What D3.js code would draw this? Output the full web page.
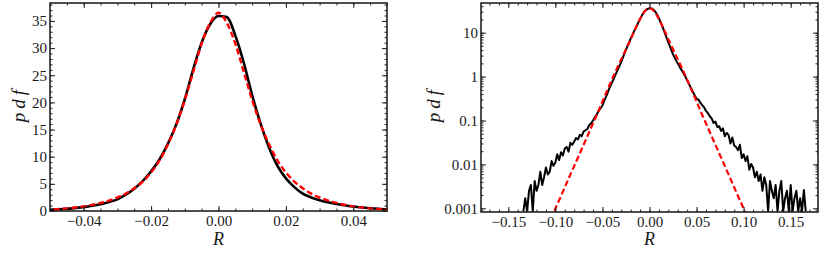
<!DOCTYPE html>
<html>
<head>
<meta charset="utf-8">
<script src="https://cdn.jsdelivr.net/npm/d3@7"></script>
<style>
  body { margin: 0; background: #fff; }
  svg { display: block; }
  .tick text { font-family: "Liberation Serif", serif; font-size: 15px; fill: #1a1a1a; }
</style>
</head>
<body>
<div id="chart"></div>
<script>
// empirical pdf, central part (same grid in both panels)
const coreR = [-0.05, -0.0475, -0.045, -0.0425, -0.04, -0.0375, -0.035, -0.0325, -0.03, -0.0275,
  -0.025, -0.0225, -0.02, -0.0175, -0.015, -0.0125, -0.01, -0.0075, -0.005, -0.0025, 0,
  0.0025, 0.005, 0.0075, 0.01, 0.0125, 0.015, 0.0175, 0.02, 0.0225, 0.025, 0.0275, 0.03,
  0.0325, 0.035, 0.0375, 0.04, 0.0425, 0.045, 0.0475, 0.05];
const blackCore = [0.22, 0.3, 0.4, 0.55, 0.72, 0.95, 1.25, 1.65, 2.15, 3.0,
  4.1, 5.5, 7.3, 9.5, 12.4, 16.0, 20.6, 26.1, 31.0, 34.4, 35.9,
  35.7, 32.3, 27.3, 21.3, 16.1, 11.7, 8.3, 6.0, 4.4, 3.2, 2.5, 2.0,
  1.6, 1.3, 1.05, 0.82, 0.64, 0.5, 0.39, 0.31];

// empirical pdf, tails (bins of 0.002)
const binWidth = 0.002;
const tailLeftStart = -0.134;
const blackTailLeft = [0.00085, 0.0017, 0.00085, 0.0025, 0.0034, 0.00085, 0.0042, 0.0025, 0.0034, 0.0068,
  0.0034, 0.0051, 0.0085, 0.0059, 0.0068, 0.0119, 0.0093, 0.011, 0.017, 0.0125,
  0.019, 0.016, 0.023, 0.025, 0.0195, 0.031, 0.028, 0.033, 0.04, 0.037,
  0.047, 0.044, 0.056, 0.06, 0.064, 0.079, 0.086, 0.1, 0.118, 0.138,
  0.165, 0.19];
const tailRightStart = 0.052;
const blackTailRight = [0.3, 0.255, 0.225, 0.2, 0.165, 0.148, 0.125, 0.112, 0.088, 0.094,
  0.071, 0.074, 0.058, 0.066, 0.044, 0.052, 0.047, 0.03, 0.041, 0.027,
  0.025, 0.021, 0.028, 0.014, 0.017, 0.0119, 0.0153, 0.0076, 0.0102, 0.0085,
  0.0051, 0.0068, 0.0042, 0.0059, 0.0025, 0.0051, 0.0034, 0.00085, 0.0042, 0.0025,
  0.0017, 0.0034, 0.00085, 0.0025, 0.0042, 0.00085, 0.0017, 0.0025, 0.00085, 0.0034,
  0.00085, 0.0017, 0.0025, 0.00085, 0.0017, 0.00085, 0.0026, 0.00085];

// fitted pdf (red dashed)
const redR = [-0.105, -0.1, -0.095, -0.09, -0.085, -0.08, -0.075, -0.07, -0.065, -0.06, -0.055,
  -0.05, -0.045, -0.04, -0.035, -0.03, -0.0275, -0.025, -0.0225, -0.02, -0.0175, -0.015,
  -0.0125, -0.01, -0.0075, -0.005, -0.0025, 0, 0.0025, 0.005, 0.0075, 0.01, 0.0125,
  0.015, 0.0175, 0.02, 0.0225, 0.025, 0.0275, 0.03, 0.035, 0.04, 0.045, 0.05,
  0.055, 0.06, 0.065, 0.07, 0.075, 0.08, 0.085, 0.09, 0.095, 0.1, 0.105];
const redPdf = [0.00057, 0.00099, 0.0017, 0.003, 0.0053, 0.0092, 0.016, 0.028, 0.049, 0.086, 0.15,
  0.27, 0.48, 0.85, 1.48, 2.5, 3.2, 4.2, 5.4, 7.1, 9.3, 12.3,
  15.9, 20.4, 25.6, 30.8, 34.6, 36.5, 34.6, 30.8, 25.6, 20.4, 15.9,
  12.3, 9.3, 7.1, 5.4, 4.2, 3.2, 2.5, 1.48, 0.85, 0.48, 0.27,
  0.15, 0.086, 0.049, 0.028, 0.016, 0.0092, 0.0053, 0.003, 0.0017, 0.00099, 0.00057];

// ticks
const linXTicks = [-0.04, -0.02, 0, 0.02, 0.04];
const linYTicks = [0, 5, 10, 15, 20, 25, 30, 35];
const logXTicks = [-0.15, -0.1, -0.05, 0, 0.05, 0.1, 0.15];
const logYTicks = [0.001, 0.01, 0.1, 1, 10];

const black = [];
blackTailLeft.forEach((v, i) => black.push([tailLeftStart + i * binWidth, v]));
coreR.forEach((r, i) => black.push([r, blackCore[i]]));
blackTailRight.forEach((v, i) => black.push([tailRightStart + i * binWidth, v]));
const red = redR.map((r, i) => [r, redPdf[i]]);

const svg = d3.select("#chart").append("svg")
  .attr("width", 831)
  .attr("height", 265);

function drawPanel(id, box, x, y, o) {
  const g = svg.append("g");

  g.append("clipPath").attr("id", id)
    .append("rect")
    .attr("x", box.left).attr("y", box.top)
    .attr("width", box.right - box.left).attr("height", box.bottom - box.top);

  const line = d3.line()
    .x(d => x(d[0]))
    .y(d => y(Math.max(d[1], o.floor)))
    .curve(o.curve);

  const plot = g.append("g").attr("clip-path", `url(#${id})`);
  plot.append("path")
    .datum(black)
    .attr("fill", "none")
    .attr("stroke", "#000")
    .attr("stroke-width", o.blackWidth)
    .attr("stroke-linejoin", "round")
    .attr("d", line);
  plot.append("path")
    .datum(red)
    .attr("fill", "none")
    .attr("stroke", "#f00")
    .attr("stroke-width", o.redWidth)
    .attr("stroke-dasharray", "6,3")
    .attr("d", line);

  // minor ticks (no labels) on all sides
  const minor = (axis, t) => axis.tickValues(t).tickSize(-2.5).tickSizeOuter(0).tickFormat("");
  g.append("g").attr("transform", `translate(0,${box.bottom})`).call(minor(d3.axisBottom(x), o.xMinor));
  g.append("g").attr("transform", `translate(0,${box.top})`).call(minor(d3.axisTop(x), o.xMinor));
  g.append("g").attr("transform", `translate(${box.left},0)`).call(minor(d3.axisLeft(y), o.yMinor));
  g.append("g").attr("transform", `translate(${box.right},0)`).call(minor(d3.axisRight(y), o.yMinor));

  // major ticks
  g.append("g").attr("transform", `translate(0,${box.bottom})`)
    .call(d3.axisBottom(x).tickValues(o.xTicks).tickSize(-5).tickSizeOuter(0).tickPadding(4).tickFormat(o.xFmt));
  g.append("g").attr("transform", `translate(0,${box.top})`)
    .call(d3.axisTop(x).tickValues(o.xTicks).tickSize(-5).tickSizeOuter(0).tickFormat(""));
  g.append("g").attr("transform", `translate(${box.left},0)`)
    .call(d3.axisLeft(y).tickValues(o.yTicks).tickSize(-5).tickSizeOuter(0).tickPadding(3).tickFormat(o.yFmt));
  g.append("g").attr("transform", `translate(${box.right},0)`)
    .call(d3.axisRight(y).tickValues(o.yTicks).tickSize(-5).tickSizeOuter(0).tickFormat(""));

  g.selectAll(".domain").remove();
  g.selectAll(".tick line").attr("stroke", "#222").attr("stroke-width", 1);
  g.selectAll(".tick text").attr("font-family", "Liberation Serif").attr("font-size", 15);

  g.append("rect")
    .attr("x", box.left).attr("y", box.top)
    .attr("width", box.right - box.left).attr("height", box.bottom - box.top)
    .attr("fill", "none")
    .attr("stroke", "#222")
    .attr("stroke-width", 1.6);

  g.append("text")
    .attr("x", (box.left + box.right) / 2)
    .attr("y", 245)
    .attr("text-anchor", "middle")
    .attr("font-family", "Liberation Serif")
    .style("font-family", "Liberation Serif")
    .style("font-style", "italic")
    .style("font-size", "18px")
    .style("fill", "#1a1a1a")
    .text("R");

  g.append("text")
    .attr("transform", `translate(${o.labelX},104) rotate(-90)`)
    .attr("text-anchor", "middle")
    .attr("dy", "0.3em")
    .attr("font-family", "Liberation Serif")
    .style("font-family", "Liberation Serif")
    .style("font-style", "italic")
    .style("font-size", "19px")
    .style("letter-spacing", "4px")
    .style("fill", "#1a1a1a")
    .text("pdf");
}

// left panel: linear scale
const boxL = { left: 50, right: 387, top: 3, bottom: 211 };
const xL = d3.scaleLinear().domain([-0.05, 0.05]).range([boxL.left, boxL.right]);
const yL = d3.scaleLinear().domain([0, 38.3]).range([boxL.bottom, boxL.top]);
drawPanel("clipL", boxL, xL, yL, {
  floor: 0,
  curve: d3.curveMonotoneX,
  blackWidth: 2.6,
  redWidth: 2.4,
  xTicks: linXTicks,
  xMinor: d3.range(-0.05, 0.0501, 0.005),
  yTicks: linYTicks,
  yMinor: d3.range(0, 38.3, 1),
  xFmt: d3.format(".2f"),
  yFmt: d3.format("d"),
  labelX: 19
});

// right panel: log scale
const boxR = { left: 481, right: 818, top: 3, bottom: 212 };
const xR = d3.scaleLinear().domain([-0.179, 0.179]).range([boxR.left, boxR.right]);
const yR = d3.scaleLog().domain([0.000824, 47.4]).range([boxR.bottom, boxR.top]);
drawPanel("clipR", boxR, xR, yR, {
  floor: 0.0001,
  curve: d3.curveLinear,
  blackWidth: 2,
  redWidth: 2.2,
  xTicks: logXTicks,
  xMinor: d3.range(-0.17, 0.1701, 0.01),
  yTicks: logYTicks,
  yMinor: yR.ticks(),
  xFmt: d3.format(".2f"),
  yFmt: d => String(d),
  labelX: 434
});
</script>
</body>
</html>
